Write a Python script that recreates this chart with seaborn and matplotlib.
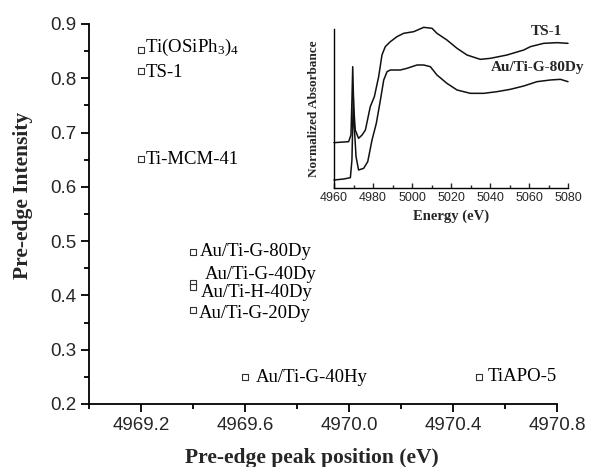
import matplotlib
matplotlib.use("Agg")
import matplotlib.pyplot as plt
from matplotlib.ticker import MultipleLocator, FixedLocator, FormatStrFormatter
import pandas as pd
import seaborn as sns

# Pre-edge peak data for each sample
samples = ["Ti(OSiPh$_3$)$_4$", "TS-1", "Ti-MCM-41", "Au/Ti-G-80Dy", "Au/Ti-G-40Dy",
           "Au/Ti-H-40Dy", "Au/Ti-G-20Dy", "Au/Ti-G-40Hy", "TiAPO-5"]
peak_position = [4969.2, 4969.2, 4969.2, 4969.4, 4969.4, 4969.4, 4969.4, 4969.6, 4970.5]
pre_edge_intensity = [0.852, 0.813, 0.651, 0.480, 0.423, 0.415, 0.373, 0.250, 0.250]

# XANES spectra shown in the inset
ts1_energy = [4960.0, 4967.5, 4968.7, 4969.2, 4969.6, 4970.1, 4970.9, 4972.6, 4974.4,
              4976.1, 4978.6, 4980.7, 4982.9, 4984.6, 4986.3, 4988.9, 4992.3, 4995.7,
              5000.9, 5006.0, 5010.3, 5012.8, 5017.9, 5023.1, 5028.2, 5035.0, 5040.2,
              5048.7, 5057.3, 5060.7, 5067.5, 5074.4, 5080.0]
ts1_absorbance = [1.36, 1.39, 1.59, 2.64, 3.64, 2.44, 1.74, 1.49, 1.59,
                  1.74, 2.44, 2.74, 3.34, 3.99, 4.24, 4.39, 4.54, 4.64,
                  4.69, 4.82, 4.79, 4.64, 4.44, 4.19, 3.99, 3.86, 3.89,
                  3.99, 4.14, 4.24, 4.34, 4.36, 4.34]
au_energy = [4960.0, 4965.0, 4968.4, 4969.2, 4969.9, 4970.4, 4971.3, 4972.6, 4975.2,
             4977.3, 4979.5, 4981.7, 4983.8, 4985.5, 4987.2, 4988.9, 4994.0, 4997.4,
             5002.6, 5006.0, 5009.4, 5012.8, 5017.9, 5023.1, 5029.9, 5036.8, 5043.6,
             5050.4, 5057.3, 5064.1, 5070.9, 5076.1, 5080.0]
au_absorbance = [0.24, 0.27, 0.31, 0.84, 2.74, 1.84, 0.94, 0.54, 0.59,
                 0.79, 1.44, 1.94, 2.64, 3.24, 3.49, 3.54, 3.54, 3.59,
                 3.69, 3.69, 3.64, 3.39, 3.14, 2.94, 2.84, 2.84, 2.89,
                 2.96, 3.06, 3.19, 3.24, 3.26, 3.19]
spectrum_names = ["TS-1", "Au/Ti-G-80Dy"]

# label offsets (points) from each marker
label_offsets = [(2.6, 2.2), (3.4, -1.2), (3.4, 0.0), (4.6, 0.0), (8.6, 6.2),
                 (5.4, -3.6), (4.0, -2.2), (7.6, -0.5), (6.2, 0.0)]

sns.set_theme(style="ticks")
plt.rcParams["font.family"] = ["Liberation Serif", "DejaVu Serif"]
plt.rcParams["mathtext.fontset"] = "custom"
plt.rcParams["mathtext.rm"] = "Liberation Serif"
plt.rcParams["mathtext.it"] = "Liberation Serif"
sans = ["Liberation Sans", "DejaVu Sans"]

fig = plt.figure(figsize=(5.91, 4.67), dpi=100)
fig.patch.set_facecolor("white")

# ---- main scatter ----
ax = fig.add_axes([89 / 591, 1 - 404 / 467, (557 - 89) / 591, (404 - 24) / 467])
points = pd.DataFrame({"sample": samples, "position": peak_position,
                       "intensity": pre_edge_intensity})
sns.scatterplot(data=points, x="position", y="intensity", marker="s", s=20,
                facecolor="white", edgecolor="#333333", linewidth=0.8, ax=ax,
                zorder=3, clip_on=False)
for (name, x, y), (dx, dy) in zip(points[["sample", "position", "intensity"]].values,
                                  label_offsets):
    ax.annotate(name, (x, y), xytext=(dx, dy), textcoords="offset points",
                ha="left", va="center", fontsize=13.5, color="black")

ax.set_xlim(4969.0, 4970.8)
ax.set_ylim(0.2, 0.9)
ax.xaxis.set_major_locator(FixedLocator([4969.2, 4969.6, 4970.0, 4970.4, 4970.8]))
ax.xaxis.set_minor_locator(FixedLocator([4969.0, 4969.4, 4969.8, 4970.2, 4970.6]))
ax.xaxis.set_major_formatter(FormatStrFormatter("%.1f"))
ax.yaxis.set_major_locator(MultipleLocator(0.1))
ax.yaxis.set_minor_locator(MultipleLocator(0.05))
ax.yaxis.set_major_formatter(FormatStrFormatter("%.1f"))
for side in ["top", "right"]:
    ax.spines[side].set_visible(False)
for side in ["left", "bottom"]:
    ax.spines[side].set_linewidth(1.3)
    ax.spines[side].set_color("black")
ax.tick_params(which="major", direction="out", length=6, width=1.3, color="black",
               labelsize=13.5, pad=3)
ax.tick_params(which="minor", direction="out", length=3.5, width=1.3, color="black")
for lab in ax.get_xticklabels() + ax.get_yticklabels():
    lab.set_family(sans)
ax.set_xlabel("Pre-edge peak position (eV)", fontsize=15.5, fontweight="bold")
ax.set_ylabel("Pre-edge Intensity", fontsize=15.5, fontweight="bold")
ax.xaxis.set_label_coords(0.476, -0.115)
ax.yaxis.set_label_coords(-0.12, 0.55)
ax.set_facecolor("white")

# ---- inset spectra ----
ins = fig.add_axes([334 / 591, 1 - 188 / 467, (568 - 334) / 591, (188 - 29) / 467])
spectra = pd.DataFrame({
    "energy": ts1_energy + au_energy,
    "absorbance": ts1_absorbance + au_absorbance,
    "sample": [spectrum_names[0]] * len(ts1_energy) + [spectrum_names[1]] * len(au_energy),
})
sns.lineplot(data=spectra, x="energy", y="absorbance", hue="sample",
             palette=["#111111", "#111111"], estimator=None, sort=False,
             linewidth=1.1, legend=False, ax=ins)
for line in ins.get_lines():
    line.set_clip_on(False)
ins.set_xlim(4960, 5080)
ins.set_ylim(0, 4.77)
ins.xaxis.set_major_locator(MultipleLocator(20))
ins.xaxis.set_minor_locator(MultipleLocator(10))
ins.set_yticks([])
ins.set_facecolor("none")
for side in ["top", "right"]:
    ins.spines[side].set_visible(False)
for side in ["left", "bottom"]:
    ins.spines[side].set_linewidth(1.0)
    ins.spines[side].set_color("black")
ins.tick_params(axis="x", which="major", direction="in", length=3.5, width=1.0,
                labelsize=9, pad=3)
ins.tick_params(axis="x", which="minor", direction="in", length=2, width=1.0)
for lab in ins.get_xticklabels():
    lab.set_family(sans)
ins.set_xlabel("Energy (eV)", fontsize=10.5, fontweight="bold", labelpad=4)
ins.set_ylabel("Normalized Absorbance", fontsize=9.5, fontweight="bold", labelpad=10)
ins.text(5069, 4.68, spectrum_names[0], ha="center", va="center",
         fontsize=11, fontweight="bold")
ins.text(5064.3, 3.6, spectrum_names[1], ha="center", va="center",
         fontsize=11, fontweight="bold")

fig.savefig("out.png", dpi=100, facecolor="white")
